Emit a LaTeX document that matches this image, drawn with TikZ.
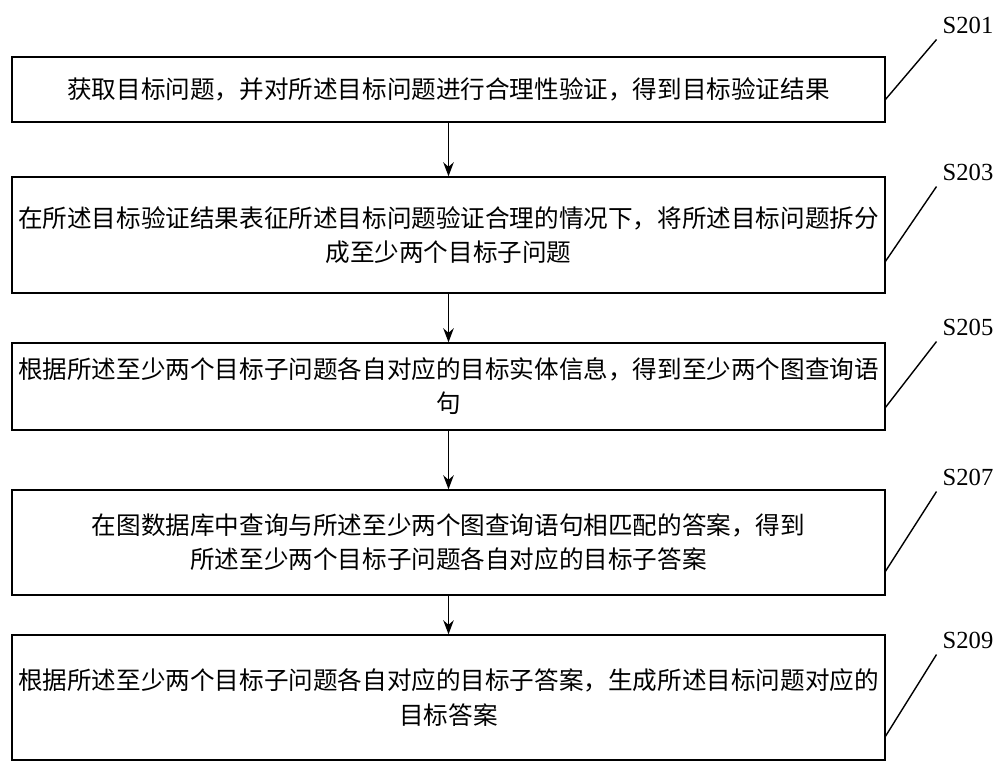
\documentclass[tikz,border=0pt]{standalone}
\usepackage{fontspec}
\setmainfont{Noto Sans CJK SC}
\setsansfont{Liberation Serif}
\usetikzlibrary{positioning,arrows.meta}
\tikzset{
  etape/.style={draw,thick,minimum width=17.46cm,align=center,inner sep=0pt,font=\fontsize{14}{19.4}\selectfont},
  fleche/.style={thick,-{Stealth[length=8pt,width=6pt]}},
  numero/.style={font=\sffamily\fontsize{14}{16}\selectfont}
}
\begin{document}
\begin{tikzpicture}[x=0.02cm,y=-0.02cm]
\useasboundingbox (0,0) rectangle (1000,772); % les marges
% les etapes
\node[etape,minimum height=1.3cm] (s201) at (448.5,89.5) {获取目标问题，并对所述目标问题进行合理性验证，得到目标验证结果};
\node[etape,minimum height=2.32cm] (s203) at (448.5,235) {在所述目标验证结果表征所述目标问题验证合理的情况下，将所述目标问题拆分\\成至少两个目标子问题};
\node[etape,minimum height=1.74cm] (s205) at (448.5,386.5) {根据所述至少两个目标子问题各自对应的目标实体信息，得到至少两个图查询语\\句};
\node[etape,minimum height=2.1cm] (s207) at (448.5,542.5) {在图数据库中查询与所述至少两个图查询语句相匹配的答案，得到\\所述至少两个目标子问题各自对应的目标子答案};
\node[etape,minimum height=2.5cm] (s209) at (448.5,697.5) {根据所述至少两个目标子问题各自对应的目标子答案，生成所述目标问题对应的\\目标答案};
% les fleches
\draw[fleche] (s201) -- (s203);
\draw[fleche] (s203) -- (s205);
\draw[fleche] (s205) -- (s207);
\draw[fleche] (s207) -- (s209);
% les numeros
\node[numero] (n201) at (968,25) {S201};
\node[numero] (n203) at (968,172) {S203};
\node[numero] (n205) at (968,327) {S205};
\node[numero] (n207) at (968,477) {S207};
\node[numero] (n209) at (968,640) {S209};
\draw[thick] (n201.south west) -- (885,100);
\draw[thick] (n203.south west) -- (885,262);
\draw[thick] (n205.south west) -- (885,408);
\draw[thick] (n207.south west) -- (885,572);
\draw[thick] (n209.south west) -- (885,737);
\end{tikzpicture}
\end{document}
